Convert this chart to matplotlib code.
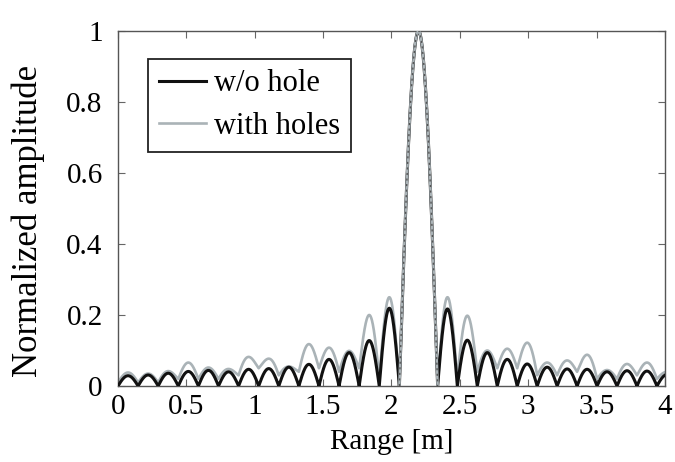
import numpy as np
import matplotlib
matplotlib.use("Agg")
import matplotlib.pyplot as plt

# ---- data ----
# positions (m) of the zeros between lobes
nulls = [0.000, 0.147, 0.294, 0.441, 0.588, 0.735, 0.882, 1.029, 1.176, 1.323,
         1.470, 1.617, 1.764, 1.911, 2.058, 2.338, 2.482, 2.628, 2.774, 2.920,
         3.066, 3.212, 3.358, 3.504, 3.650, 3.796, 3.942, 4.088]
# lobe peak amplitudes (one per interval between nulls)
black_peaks = [0.029, 0.031, 0.036, 0.041, 0.044, 0.040, 0.047, 0.049, 0.053, 0.061,
               0.075, 0.094, 0.128, 0.219, 1.000,
               0.217, 0.129, 0.094, 0.075, 0.062, 0.053, 0.048, 0.047, 0.040, 0.043,
               0.042, 0.032]
gray_peaks = [0.038, 0.035, 0.042, 0.066, 0.052, 0.048, 0.082, 0.077, 0.055, 0.118,
              0.108, 0.099, 0.200, 0.250, 1.000,
              0.250, 0.198, 0.100, 0.105, 0.122, 0.066, 0.072, 0.088, 0.045, 0.062,
              0.066, 0.040]
# level of the gray curve at each null
gray_floor = [0.01, 0.01, 0.01, 0.02, 0.02, 0.02, 0.03, 0.05, 0.03, 0.04,
              0.05, 0.04, 0.05, 0.02, 0.00, 0.00, 0.02, 0.04, 0.05, 0.05,
              0.03, 0.03, 0.04, 0.02, 0.02, 0.03, 0.02, 0.02]

labels = ["w/o hole", "with holes"]
xticks = [0, 0.5, 1, 1.5, 2, 2.5, 3, 3.5, 4]
xticklabels = ["0", "0.5", "1", "1.5", "2", "2.5", "3", "3.5", "4"]
yticks = [0, 0.2, 0.4, 0.6, 0.8, 1]
yticklabels = ["0", "0.2", "0.4", "0.6", "0.8", "1"]


def lobe_curve(peaks, floor=None, n=120):
    xs, ys = [], []
    for i, p in enumerate(peaks):
        a, b = nulls[i], nulls[i + 1]
        t = np.linspace(0, 1, n)
        fa = floor[i] if floor else 0.0
        fb = floor[i + 1] if floor else 0.0
        base = fa + (fb - fa) * t
        y = base + (p - np.minimum(base, p)) * np.sin(np.pi * t)
        xs.append(a + (b - a) * t)
        ys.append(y)
    return np.concatenate(xs), np.concatenate(ys)


plt.rcParams['font.family'] = ['Liberation Serif', 'DejaVu Serif']

fig = plt.figure(figsize=(6.75, 4.62), dpi=100)
ax = fig.add_axes([0.1748, 0.1645, 0.8102, 0.7685])

gx, gy = lobe_curve(gray_peaks, gray_floor)
bx, by = lobe_curve(black_peaks)

gray = "#aab3b7"
ax.plot(gx, gy, color=gray, lw=1.9, label=labels[1], zorder=2)
ax.plot(bx, by, color="#111111", lw=2.2, label=labels[0], zorder=3)
# main lobe: gray on top with dotted dark trace
m0, m1 = nulls[14], nulls[15]
mask = (gx >= m0) & (gx <= m1)
ax.plot(gx[mask], gy[mask], color=gray, lw=1.9, zorder=4)
mask_b = (bx >= m0) & (bx <= m1)
ax.plot(bx[mask_b], by[mask_b], color="#555555", lw=1.0, ls=(0, (1.5, 2.5)), zorder=5)

ax.set_xlim(0, 4)
ax.set_ylim(0, 1)
ax.set_xticks(xticks)
ax.set_xticklabels(xticklabels)
ax.set_yticks(yticks)
ax.set_yticklabels(yticklabels)
ax.tick_params(direction='in', top=True, right=True, length=5, width=0.8,
               color="#666666", labelsize=21)
ax.tick_params(axis='x', pad=6)
ax.tick_params(axis='y', pad=11)
for s in ax.spines.values():
    s.set_color("#555555")
    s.set_linewidth(1.0)

ax.set_xlabel("Range [m]", fontsize=21)
ax.xaxis.set_label_coords(0.5, -0.12, transform=ax.transAxes)
ax.xaxis.label.set_va('top')
ax.set_ylabel("Normalized amplitude", fontsize=25)
ax.yaxis.set_label_coords(-0.165, 0.465, transform=ax.transAxes)
ax.yaxis.label.set_va('center')

h, l = ax.get_legend_handles_labels()
leg = ax.legend([h[1], h[0]], [l[1], l[0]], loc='upper left',
                bbox_to_anchor=(0.055, 0.922), fontsize=22, frameon=True,
                fancybox=False, handlelength=1.55, handletextpad=0.25,
                borderpad=0.35, labelspacing=0.45, borderaxespad=0)
leg.get_frame().set_edgecolor("#222222")
leg.get_frame().set_linewidth(1.3)
leg.get_frame().set_alpha(1)

fig.savefig("out.png", dpi=100)
